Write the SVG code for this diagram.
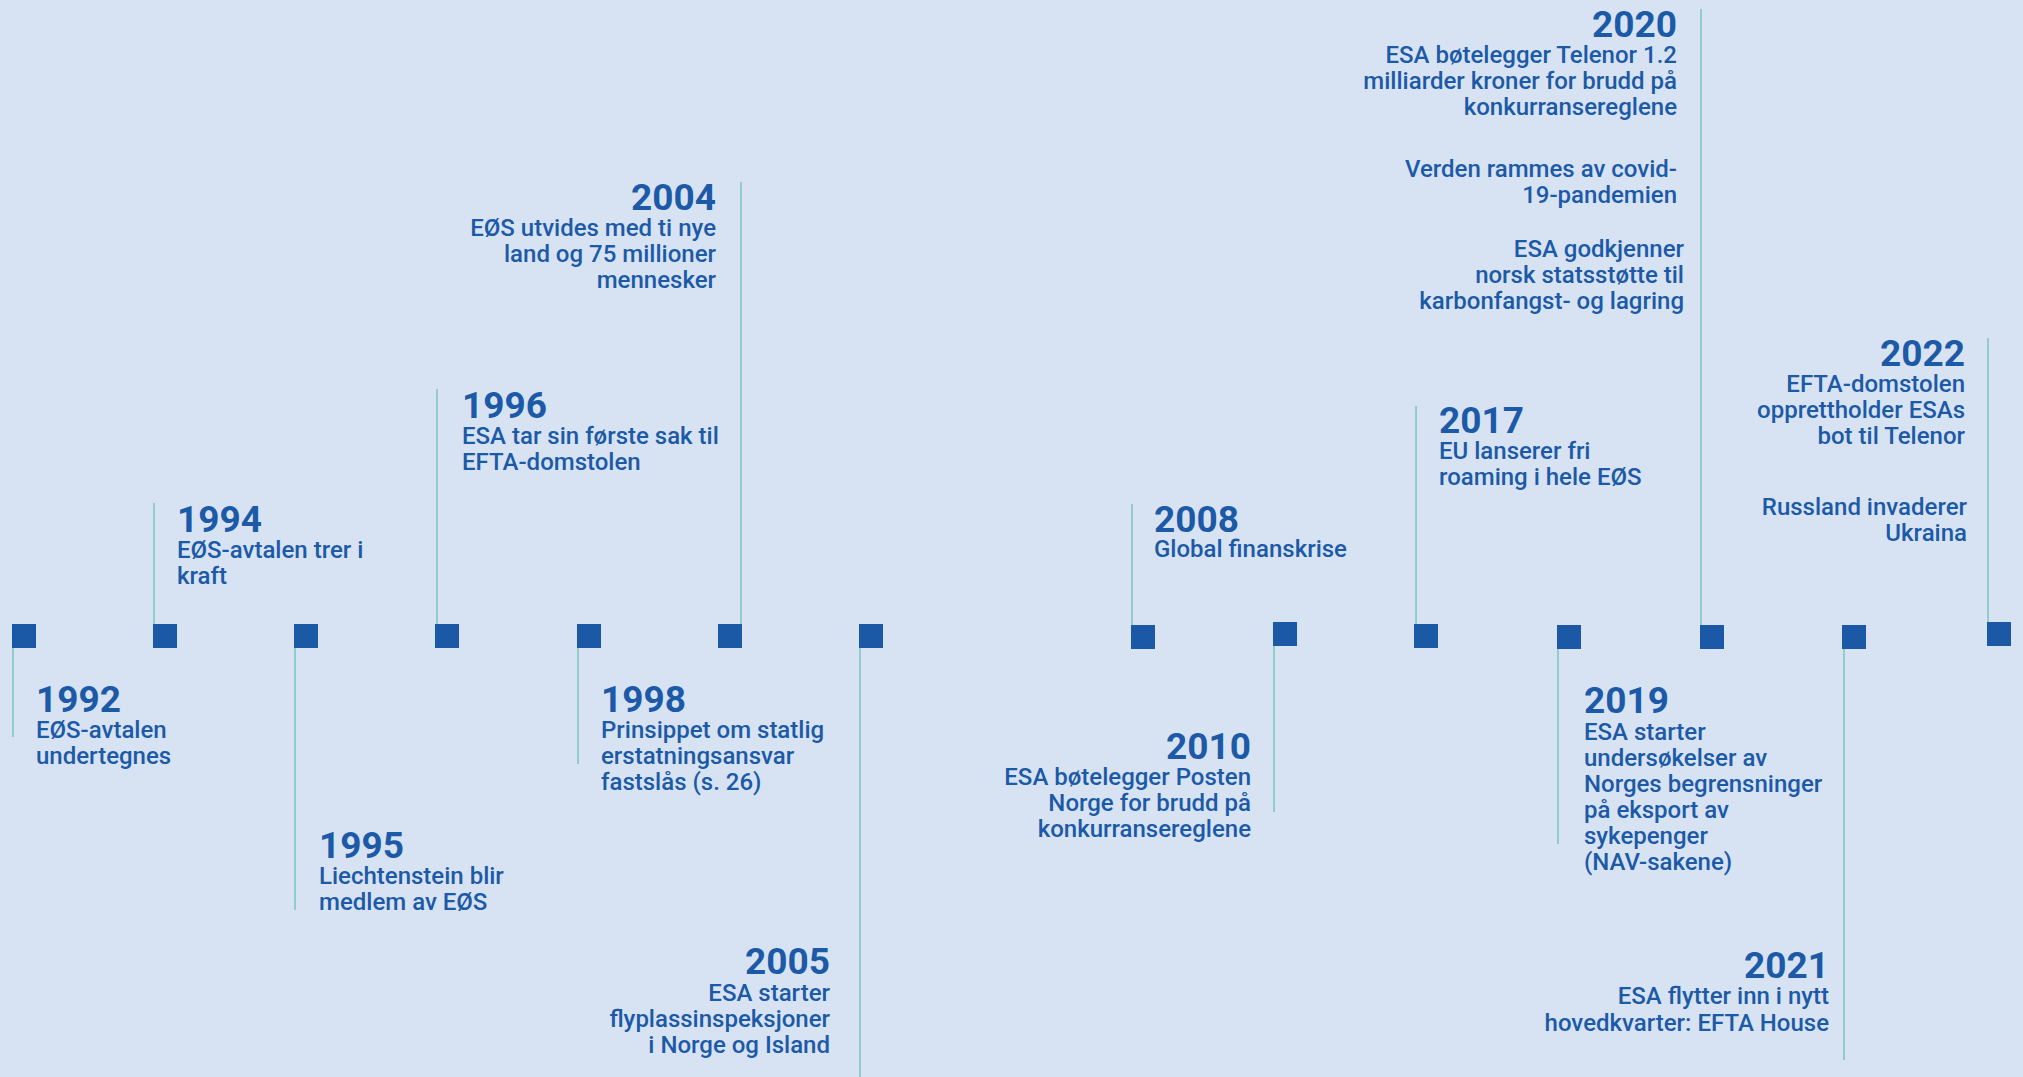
<svg xmlns="http://www.w3.org/2000/svg" width="2023" height="1077" viewBox="0 0 2023 1077">
<style>
.bg{fill:#d7e3f3}
.sq{fill:#1b58a6}
.ln{stroke:#7fc7c1;stroke-width:1.6;fill:none}
text{font-family:Roboto,"Liberation Sans",sans-serif;fill:#1c5aa7}
.yr{font-size:37px;font-weight:700}
.tx{font-size:24px;font-weight:500}
.e{text-anchor:end}
</style>
<rect class="bg" x="0" y="0" width="2023" height="1077"/>
<g id="connectors">
<line class="ln" x1="13" y1="648" x2="13" y2="737"/>
<line class="ln" x1="154" y1="503" x2="154" y2="624"/>
<line class="ln" x1="295" y1="648" x2="295" y2="910"/>
<line class="ln" x1="437" y1="389" x2="437" y2="624"/>
<line class="ln" x1="578" y1="648" x2="578" y2="764"/>
<line class="ln" x1="741" y1="182" x2="741" y2="624"/>
<line class="ln" x1="860" y1="648" x2="860" y2="1077"/>
<line class="ln" x1="1132" y1="504" x2="1132" y2="625"/>
<line class="ln" x1="1274" y1="646" x2="1274" y2="812"/>
<line class="ln" x1="1416" y1="406" x2="1416" y2="624"/>
<line class="ln" x1="1558" y1="649" x2="1558" y2="844"/>
<line class="ln" x1="1701" y1="9" x2="1701" y2="625"/>
<line class="ln" x1="1844" y1="649" x2="1844" y2="1060"/>
<line class="ln" x1="1988" y1="338" x2="1988" y2="622"/>
</g>
<g id="e1992"><rect class="sq" x="12" y="624" width="24" height="24"/>
<text class="yr" x="36" y="712">1992</text>
<text class="tx" x="36" y="738">EØS-avtalen</text>
<text class="tx" x="36" y="764">undertegnes</text></g>
<g id="e1994"><rect class="sq" x="153" y="624" width="24" height="24"/>
<text class="yr" x="177" y="532">1994</text>
<text class="tx" x="177" y="558">EØS-avtalen trer i</text>
<text class="tx" x="177" y="584">kraft</text></g>
<g id="e1995"><rect class="sq" x="294" y="624" width="24" height="24"/>
<text class="yr" x="319" y="858">1995</text>
<text class="tx" x="319" y="884">Liechtenstein blir</text>
<text class="tx" x="319" y="910">medlem av EØS</text></g>
<g id="e1996"><rect class="sq" x="435" y="624" width="24" height="24"/>
<text class="yr" x="462" y="418">1996</text>
<text class="tx" x="462" y="444">ESA tar sin første sak til</text>
<text class="tx" x="462" y="470">EFTA-domstolen</text></g>
<g id="e1998"><rect class="sq" x="577" y="624" width="24" height="24"/>
<text class="yr" x="601" y="712">1998</text>
<text class="tx" x="601" y="738">Prinsippet om statlig</text>
<text class="tx" x="601" y="764">erstatningsansvar</text>
<text class="tx" x="601" y="790">fastslås (s. 26)</text></g>
<g id="e2004"><rect class="sq" x="718" y="624" width="24" height="24"/>
<text class="yr e" x="716" y="210">2004</text>
<text class="tx e" x="716" y="236">EØS utvides med ti nye</text>
<text class="tx e" x="716" y="262">land og 75 millioner</text>
<text class="tx e" x="716" y="288">mennesker</text></g>
<g id="e2005"><rect class="sq" x="859" y="624" width="24" height="24"/>
<text class="yr e" x="830" y="974">2005</text>
<text class="tx e" x="830" y="1001">ESA starter</text>
<text class="tx e" x="830" y="1027">flyplassinspeksjoner</text>
<text class="tx e" x="830" y="1053">i Norge og Island</text></g>
<g id="e2008"><rect class="sq" x="1131" y="625" width="24" height="24"/>
<text class="yr" x="1154" y="532">2008</text>
<text class="tx" x="1154" y="557">Global finanskrise</text></g>
<g id="e2010"><rect class="sq" x="1273" y="622" width="24" height="24"/>
<text class="yr e" x="1251" y="759">2010</text>
<text class="tx e" x="1251" y="785">ESA bøtelegger Posten</text>
<text class="tx e" x="1251" y="811">Norge for brudd på</text>
<text class="tx e" x="1251" y="837">konkurransereglene</text></g>
<g id="e2017"><rect class="sq" x="1414" y="624" width="24" height="24"/>
<text class="yr" x="1439" y="433">2017</text>
<text class="tx" x="1439" y="459">EU lanserer fri</text>
<text class="tx" x="1439" y="485">roaming i hele EØS</text></g>
<g id="e2019"><rect class="sq" x="1557" y="625" width="24" height="24"/>
<text class="yr" x="1584" y="713">2019</text>
<text class="tx" x="1584" y="740">ESA starter</text>
<text class="tx" x="1584" y="766">undersøkelser av</text>
<text class="tx" x="1584" y="792">Norges begrensninger</text>
<text class="tx" x="1584" y="818">på eksport av</text>
<text class="tx" x="1584" y="844">sykepenger</text>
<text class="tx" x="1584" y="870">(NAV-sakene)</text></g>
<g id="e2020"><rect class="sq" x="1700" y="625" width="24" height="24"/>
<text class="yr e" x="1677" y="37">2020</text>
<text class="tx e" x="1677" y="63">ESA bøtelegger Telenor 1.2</text>
<text class="tx e" x="1677" y="89">milliarder kroner for brudd på</text>
<text class="tx e" x="1677" y="115">konkurransereglene</text>
<text class="tx e" x="1677" y="177">Verden rammes av covid-</text>
<text class="tx e" x="1677" y="203">19-pandemien</text>
<text class="tx e" x="1684" y="257">ESA godkjenner</text>
<text class="tx e" x="1684" y="283">norsk statsstøtte til</text>
<text class="tx e" x="1684" y="309">karbonfangst- og lagring</text></g>
<g id="e2021"><rect class="sq" x="1842" y="625" width="24" height="24"/>
<text class="yr e" x="1829" y="978">2021</text>
<text class="tx e" x="1829" y="1004">ESA flytter inn i nytt</text>
<text class="tx e" x="1829" y="1031">hovedkvarter: EFTA House</text></g>
<g id="e2022"><rect class="sq" x="1987" y="622" width="24" height="24"/>
<text class="yr e" x="1965" y="366">2022</text>
<text class="tx e" x="1965" y="392">EFTA-domstolen</text>
<text class="tx e" x="1965" y="418">opprettholder ESAs</text>
<text class="tx e" x="1965" y="444">bot til Telenor</text>
<text class="tx e" x="1967" y="515">Russland invaderer</text>
<text class="tx e" x="1967" y="541">Ukraina</text></g>
</svg>
